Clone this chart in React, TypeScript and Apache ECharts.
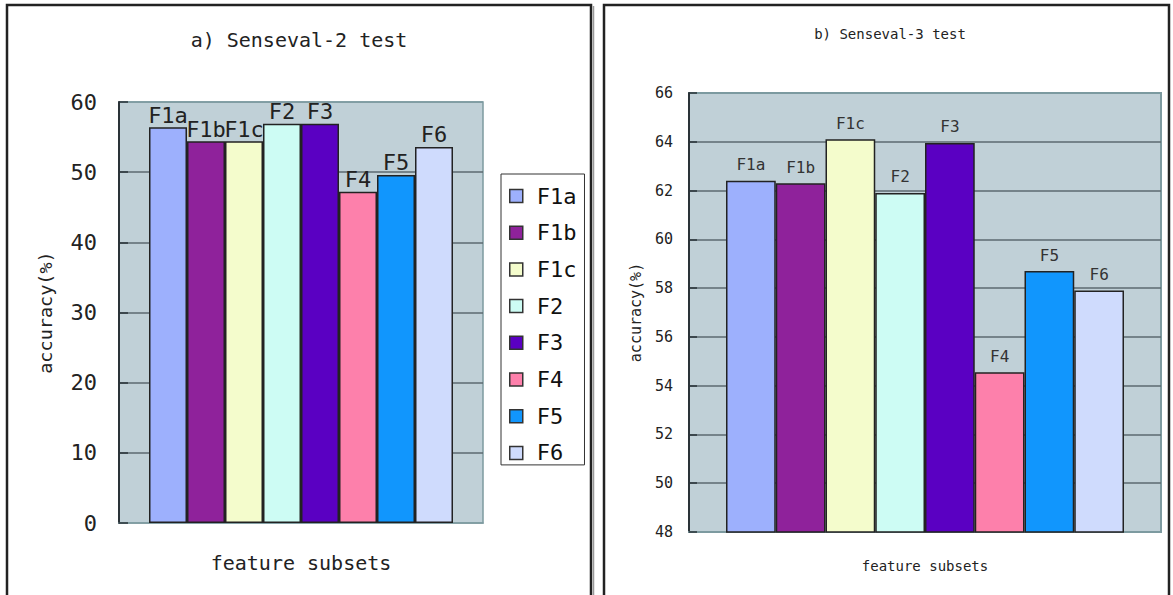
import React, { useEffect, useRef } from "react";
import * as echarts from "echarts";

const seriesNames = ["F1a", "F1b", "F1c", "F2", "F3", "F4", "F5", "F6"];
const barColors = ["#9db0fd", "#8f229b", "#f4fccc", "#cdfcf4", "#5a00c2", "#fd80ab", "#1196fd", "#cfdbfd"];
const valuesA = [56.4, 54.4, 54.4, 56.9, 56.9, 47.2, 49.6, 53.6];
const valuesB = [62.4, 62.3, 64.1, 61.9, 63.95, 54.55, 58.7, 57.9];
const titleA = "a) Senseval-2 test";
const titleB = "b) Senseval-3 test";
const yNameText = "accuracy(%)";
const xNameText = "feature subsets";

const FONT = "DejaVu Sans Mono";
const PLOT_BG = "#c0d0d7";
const BORDER = "#7d9aa0";
const GRIDLINE = "#5c6a70";

export default function App() {
  const ref = useRef<HTMLDivElement>(null);
  useEffect(() => {
    if (!ref.current) return;
    const chart = echarts.init(ref.current, null, { renderer: "svg" });
    const series: any[] = [];
    seriesNames.forEach((n, i) => {
      series.push({
        type: "bar",
        name: n,
        xAxisIndex: 0,
        yAxisIndex: 0,
        data: [valuesA[i]],
        barWidth: 38,
        barGap: "0%",
        itemStyle: { color: barColors[i], borderColor: "#222", borderWidth: 1.5 },
        label: {
          show: true,
          position: "top",
          distance: 1,
          formatter: n,
          fontFamily: FONT,
          fontSize: 22,
          color: "#222",
        },
      });
    });
    seriesNames.forEach((n, i) => {
      series.push({
        type: "bar",
        name: n,
        xAxisIndex: 1,
        yAxisIndex: 1,
        data: [valuesB[i]],
        barWidth: 49.75,
        barGap: "0%",
        itemStyle: { color: barColors[i], borderColor: "#222", borderWidth: 1.5 },
        label: {
          show: true,
          position: "top",
          distance: 8,
          formatter: n,
          fontFamily: FONT,
          fontSize: 16,
          color: "#333",
        },
      });
    });
    const splitA = ["rgba(0,0,0,0)", GRIDLINE, GRIDLINE, GRIDLINE, GRIDLINE, GRIDLINE, BORDER];
    const splitB = ["rgba(0,0,0,0)", GRIDLINE, GRIDLINE, GRIDLINE, GRIDLINE, GRIDLINE, GRIDLINE, GRIDLINE, GRIDLINE, BORDER];
    chart.setOption({
      animation: false,
      textStyle: { fontFamily: FONT },
      grid: [
        { left: 119, top: 102, width: 364, height: 421, show: true, backgroundColor: PLOT_BG, borderColor: BORDER, borderWidth: 1.5 },
        { left: 689, top: 93, width: 472, height: 439, show: true, backgroundColor: PLOT_BG, borderColor: BORDER, borderWidth: 2 },
      ],
      legend: {
        data: seriesNames,
        orient: "vertical",
        left: 501,
        top: 174,
        icon: "rect",
        itemWidth: 13,
        itemHeight: 13,
        itemGap: 14.7,
        padding: [11, 8, 1, 8],
        borderColor: "#333",
        borderWidth: 1,
        backgroundColor: "#fff",
        selectedMode: false,
        itemStyle: { borderColor: "#333", borderWidth: 1.5 },
        textStyle: { fontFamily: FONT, fontSize: 22, lineHeight: 20, color: "#111", padding: [0, 0, 0, 9] },
      },
      xAxis: [
        {
          type: "category",
          gridIndex: 0,
          data: [""],
          axisLabel: { show: false },
          axisTick: { show: false },
          axisLine: { lineStyle: { color: BORDER, width: 1.5 } },
          name: xNameText,
          nameLocation: "middle",
          nameGap: 30,
          nameTextStyle: { fontFamily: FONT, fontSize: 20, color: "#222" },
        },
        {
          type: "category",
          gridIndex: 1,
          data: [""],
          axisLabel: { show: false },
          axisTick: { show: false },
          axisLine: { lineStyle: { color: BORDER, width: 2 } },
          name: xNameText,
          nameLocation: "middle",
          nameGap: 27,
          nameTextStyle: { fontFamily: FONT, fontSize: 14, color: "#222" },
        },
      ],
      yAxis: [
        {
          type: "value",
          gridIndex: 0,
          min: 0,
          max: 60,
          interval: 10,
          axisLine: { show: true, lineStyle: { color: "#2a3338", width: 2 } },
          axisTick: { show: true, inside: true, length: 9, lineStyle: { color: "#2a3338", width: 1.5 } },
          axisLabel: { fontFamily: FONT, fontSize: 22, color: "#222", margin: 22 },
          splitLine: { show: true, lineStyle: { color: splitA, width: 1.5 } },
          name: yNameText,
          nameLocation: "middle",
          nameGap: 64,
          nameTextStyle: { fontFamily: FONT, fontSize: 18.5, color: "#222" },
        },
        {
          type: "value",
          gridIndex: 1,
          min: 48,
          max: 66,
          interval: 2,
          axisLine: { show: true, lineStyle: { color: "#2a3338", width: 2 } },
          axisTick: { show: true, inside: true, length: 8, lineStyle: { color: "#2a3338", width: 1.5 } },
          axisLabel: { fontFamily: FONT, fontSize: 15, color: "#222", margin: 16 },
          splitLine: { show: true, lineStyle: { color: splitB, width: 1.5 } },
          name: yNameText,
          nameLocation: "middle",
          nameGap: 46,
          nameTextStyle: { fontFamily: FONT, fontSize: 15, color: "#222" },
        },
      ],
      graphic: [
        {
          type: "polyline",
          shape: { points: [[7, 600], [7, 5], [591, 5], [591, 600]] },
          style: { stroke: "#222", lineWidth: 2.5, fill: "none" },
        },
        {
          type: "line",
          shape: { x1: 593.5, y1: 6, x2: 593.5, y2: 600 },
          style: { stroke: "#9a9a9a", lineWidth: 1.5 },
        },
        {
          type: "polyline",
          shape: { points: [[604, 600], [604, 5], [1169, 5], [1169, 600]] },
          style: { stroke: "#222", lineWidth: 2.5, fill: "none" },
        },
        {
          type: "text",
          x: 299,
          y: 40,
          style: { text: titleA, font: `20px "${FONT}"`, fill: "#222", align: "center", verticalAlign: "middle", textAlign: "center", textVerticalAlign: "middle" },
        },
        {
          type: "text",
          x: 890,
          y: 34,
          style: { text: titleB, font: `14px "${FONT}"`, fill: "#222", align: "center", verticalAlign: "middle", textAlign: "center", textVerticalAlign: "middle" },
        },
      ],
      series,
    });
    return () => chart.dispose();
  }, []);
  return <div ref={ref} style={{ position: "absolute", left: 0, top: 0, width: 1173, height: 595, background: "#fff" }} />;
}
